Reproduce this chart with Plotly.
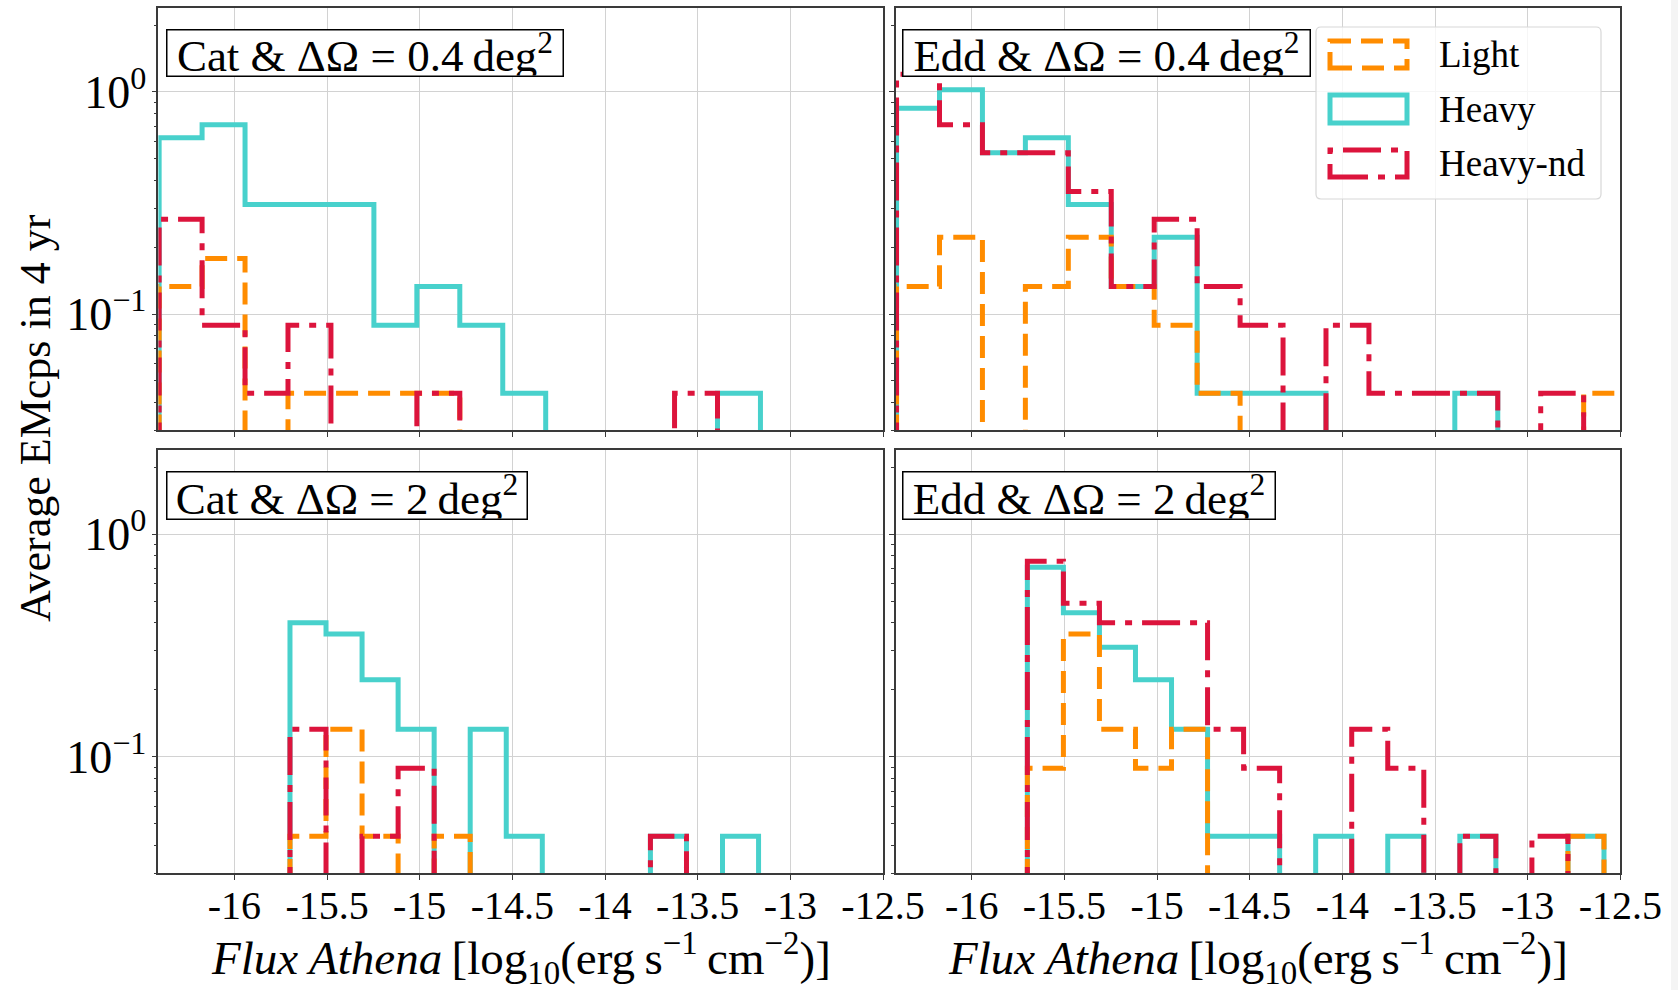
import numpy as np
import plotly.graph_objects as go

# ---------------------------------------------------------------------------
# Data: average number of EM counterparts in 4 yr, per log10 flux bin
# ---------------------------------------------------------------------------
# Bin edges in log10(F / erg s^-1 cm^-2)
edges_04 = np.linspace(-16.406, -12.466, 18)   # 17 bins, dOmega = 0.4 deg^2
edges_2 = np.linspace(-15.700, -12.588, 17)    # 16 bins, dOmega = 2 deg^2

# Cat & dOmega = 0.4 deg^2
light_cat_04 = [0.133, 0.178, 0, 0.044, 0.044, 0.044, 0.044, 0, 0, 0, 0, 0, 0, 0, 0, 0, 0]
heavy_cat_04 = [0.622, 0.711, 0.311, 0.311, 0.311, 0.089, 0.133, 0.089, 0.044, 0, 0, 0, 0, 0.044, 0, 0, 0]
heavynd_cat_04 = [0.267, 0.089, 0.044, 0.089, 0, 0, 0.044, 0, 0, 0, 0, 0, 0.044, 0, 0, 0, 0]

# Edd & dOmega = 0.4 deg^2
light_edd_04 = [0.133, 0.222, 0, 0.133, 0.222, 0.133, 0.089, 0.044, 0, 0, 0, 0, 0, 0, 0, 0, 0.044]
heavy_edd_04 = [0.844, 1.022, 0.533, 0.622, 0.311, 0.133, 0.222, 0.044, 0.044, 0.044, 0, 0, 0, 0.044, 0, 0, 0]
heavynd_edd_04 = [1.2, 0.711, 0.533, 0.533, 0.356, 0.133, 0.267, 0.133, 0.089, 0, 0.089, 0.044, 0.044, 0.044, 0, 0.044, 0]

# Cat & dOmega = 2 deg^2
light_cat_2 = [0.044, 0.133, 0.044, 0, 0.044, 0, 0, 0, 0, 0, 0, 0, 0, 0, 0, 0]
heavy_cat_2 = [0.4, 0.356, 0.222, 0.133, 0, 0.133, 0.044, 0, 0, 0, 0.044, 0, 0.044, 0, 0, 0]
heavynd_cat_2 = [0.133, 0, 0.044, 0.089, 0, 0, 0, 0, 0, 0, 0.044, 0, 0, 0, 0, 0]

# Edd & dOmega = 2 deg^2
light_edd_2 = [0.089, 0.356, 0.133, 0.089, 0.133, 0, 0, 0, 0, 0, 0, 0, 0, 0, 0, 0.044]
heavy_edd_2 = [0.711, 0.444, 0.311, 0.222, 0.133, 0.044, 0.044, 0, 0.044, 0, 0.044, 0, 0.044, 0, 0, 0.044]
heavynd_edd_2 = [0.756, 0.489, 0.4, 0.4, 0.4, 0.133, 0.089, 0, 0, 0.133, 0.089, 0, 0.044, 0, 0.044, 0]

panel_titles = ["Cat &amp; ΔΩ = 0.4\u2009deg<sup>2</sup>",
                "Edd &amp; ΔΩ = 0.4\u2009deg<sup>2</sup>",
                "Cat &amp; ΔΩ = 2\u2009deg<sup>2</sup>",
                "Edd &amp; ΔΩ = 2\u2009deg<sup>2</sup>"]
series_names = ["Light", "Heavy", "Heavy-nd"]

x_ticks = [-16, -15.5, -15, -14.5, -14, -13.5, -13, -12.5]
x_ticklabels = ["-16", "-15.5", "-15", "-14.5", "-14", "-13.5", "-13", "-12.5"]
y_ticks = [1, 0.1]
y_ticklabels = ["10<sup>0</sup>", "10<sup>\u22121</sup>"]
y_minor = [0.03, 0.04, 0.05, 0.06, 0.07, 0.08, 0.09,
           0.2, 0.3, 0.4, 0.5, 0.6, 0.7, 0.8, 0.9, 2]

x_title = ("<i>Flux Athena</i>\u2009[log<sub>10</sub>(erg\u2009s<sup>\u22121</sup>"
           "\u2009cm<sup>\u22122</sup>)]")
y_title = "Average EMcps in 4 yr"

# ---------------------------------------------------------------------------
# Styling
# ---------------------------------------------------------------------------
FONT = "Liberation Serif"
W, H = 1678, 990
ORANGE = "#FF8C00"
CYAN = "#48D1CC"
CRIMSON = "#DC143C"
LW = 5
styles = {
    "Light": dict(color=ORANGE, dash="22px,10px"),
    "Heavy": dict(color=CYAN, dash="solid"),
    "Heavy-nd": dict(color=CRIMSON, dash="38px,10px,7px,10px"),
}
SPINE = "#3a3a3a"
GRID = "#d2d2d2"


def px(x):
    return x / W


def py(y):
    return 1 - y / H


# panel pixel boxes (left, right, top, bottom)
col_x = [(158.4, 883.0), (895.8, 1620.3)]
row_y = [(7.5, 430.2), (449.5, 873.3)]

panels = [
    dict(edges=edges_04, data={"Light": light_cat_04, "Heavy": heavy_cat_04, "Heavy-nd": heavynd_cat_04}),
    dict(edges=edges_04, data={"Light": light_edd_04, "Heavy": heavy_edd_04, "Heavy-nd": heavynd_edd_04}),
    dict(edges=edges_2, data={"Light": light_cat_2, "Heavy": heavy_cat_2, "Heavy-nd": heavynd_cat_2}),
    dict(edges=edges_2, data={"Light": light_edd_2, "Heavy": heavy_edd_2, "Heavy-nd": heavynd_edd_2}),
]

FLOOR = 1e-4  # empty bins drop below the visible range


def step_xy(edges, values):
    v = [val if val > 0 else FLOOR for val in values]
    x = [edges[0]] + list(edges[:-1]) + [edges[-1]]
    y = [FLOOR] + v + [FLOOR]
    return x, y


fig = go.Figure()
draw_order = ["Heavy", "Light", "Heavy-nd"]

for i, p in enumerate(panels):
    sfx = "" if i == 0 else str(i + 1)
    for name in draw_order:
        x, y = step_xy(p["edges"], p["data"][name])
        fig.add_trace(go.Scatter(
            x=x, y=y, mode="lines", line_shape="hv", name=name,
            line=dict(color=styles[name]["color"], width=LW, dash=styles[name]["dash"]),
            showlegend=False, hoverinfo="skip",
            xaxis="x" + sfx, yaxis="y" + sfx,
        ))

layout_axes = {}
for i in range(4):
    r, c = divmod(i, 2)
    sfx = "" if i == 0 else str(i + 1)
    x0, x1 = col_x[c]
    y0, y1 = row_y[r]
    layout_axes["xaxis" + sfx] = dict(
        domain=[px(x0), px(x1)], anchor="y" + sfx, automargin=False,
        range=[-16.41, -12.5], tickmode="array", tickvals=x_ticks, ticktext=x_ticklabels,
        showticklabels=(r == 1), ticks="outside", ticklen=5, tickwidth=1.2, tickcolor=SPINE,
        showgrid=True, gridcolor=GRID, gridwidth=1.3, zeroline=False,
        showline=True, mirror=True, linecolor=SPINE, linewidth=1.6,
        tickfont=dict(family=FONT, size=40, color="black"), ticklabelstandoff=-9,
    )
    layout_axes["yaxis" + sfx] = dict(
        domain=[py(y1), py(y0)], anchor="x" + sfx, type="log", automargin=False,
        range=[np.log10(0.03), np.log10(2.4)], tickmode="array", tickvals=y_ticks,
        ticktext=y_ticklabels, showticklabels=(c == 0),
        ticks="outside", ticklen=5, tickwidth=1.2, tickcolor=SPINE,
        minor=dict(tickmode="array", tickvals=y_minor, ticks="outside", ticklen=3,
                   tickwidth=1, tickcolor=SPINE, showgrid=False),
        showgrid=True, gridcolor=GRID, gridwidth=1.3, zeroline=False,
        showline=True, mirror=True, linecolor=SPINE, linewidth=1.6,
        tickfont=dict(family=FONT, size=46, color="black"), ticklabelstandoff=-4,
    )

annotations = []
shapes = []

# panel labels in boxes
label_boxes = [(166, 29, 395, 45), (902, 29, 406, 45), (166, 471, 359, 46), (902, 471, 371, 46)]
for text, (bx, by, bw, bh) in zip(panel_titles, label_boxes):
    annotations.append(dict(
        text=text, xref="paper", yref="paper", x=px(bx), y=py(by),
        xanchor="left", yanchor="top", showarrow=False, width=bw, height=bh,
        align="center", valign="middle",
        font=dict(family=FONT, size=45, color="black"),
        bgcolor="white", bordercolor="black", borderwidth=1.5, borderpad=0,
    ))

# axis titles
for c in range(2):
    x0, x1 = col_x[c]
    annotations.append(dict(
        text=x_title, xref="paper", yref="paper", x=px((x0 + x1) / 2), y=py(958),
        xanchor="center", yanchor="middle", showarrow=False,
        font=dict(family=FONT, size=47, color="black"),
    ))
annotations.append(dict(
    text=y_title, xref="paper", yref="paper", x=px(35), y=py(418),
    xanchor="center", yanchor="middle", showarrow=False, textangle=-90,
    font=dict(family=FONT, size=44, color="black"),
))

# legend (upper right of the Edd 0.4 deg^2 panel)
lx0, lx1, ly0, ly1, rad = 1316, 1601, 27, 199, 5
rx, ry = rad / W, rad / H
path = (f"M {px(lx0)+rx},{py(ly0)} L {px(lx1)-rx},{py(ly0)} "
        f"Q {px(lx1)},{py(ly0)} {px(lx1)},{py(ly0)-ry} "
        f"L {px(lx1)},{py(ly1)+ry} Q {px(lx1)},{py(ly1)} {px(lx1)-rx},{py(ly1)} "
        f"L {px(lx0)+rx},{py(ly1)} Q {px(lx0)},{py(ly1)} {px(lx0)},{py(ly1)+ry} "
        f"L {px(lx0)},{py(ly0)-ry} Q {px(lx0)},{py(ly0)} {px(lx0)+rx},{py(ly0)} Z")
shapes.append(dict(type="path", path=path, xref="paper", yref="paper",
                   fillcolor="rgba(255,255,255,0.8)", line=dict(color="#d8d8d8", width=1.2),
                   layer="above"))
handle_rows = [(41, 68), (95, 123), (150, 177)]
for name, (hy0, hy1) in zip(series_names, handle_rows):
    shapes.append(dict(type="rect", xref="paper", yref="paper",
                       x0=px(1330), x1=px(1407), y0=py(hy1), y1=py(hy0),
                       line=dict(color=styles[name]["color"], width=LW, dash=styles[name]["dash"]),
                       fillcolor="rgba(0,0,0,0)", layer="above"))
    annotations.append(dict(
        text=name, xref="paper", yref="paper", x=px(1437), y=py((hy0 + hy1) / 2),
        xanchor="left", yanchor="middle", showarrow=False,
        font=dict(family=FONT, size=37, color="black"),
    ))

# thin grey strip at the right border of the canvas
shapes.append(dict(type="rect", xref="paper", yref="paper", x0=px(1671), x1=1, y0=0, y1=1,
                   fillcolor="#f4f4f4", line=dict(width=0), layer="below"))

fig.update_layout(
    width=W, height=H, autosize=False,
    margin=dict(l=0, r=0, t=0, b=0),
    paper_bgcolor="white", plot_bgcolor="white",
    showlegend=False,
    annotations=annotations, shapes=shapes,
    font=dict(family=FONT, color="black"),
    **layout_axes,
)

fig.write_html("out.html")
